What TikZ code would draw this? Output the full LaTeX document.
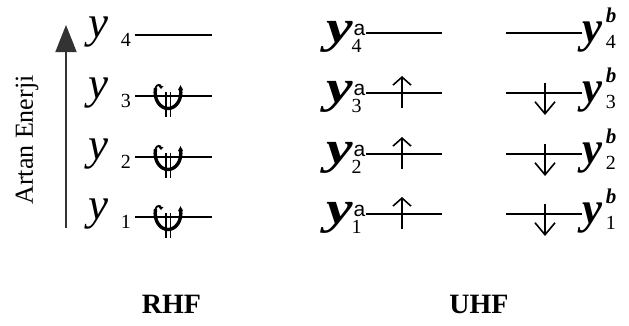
\documentclass[tikz,border=0pt]{standalone}
\usepackage{fontspec}
\setmainfont{Liberation Serif}
\newfontfamily\arialfont{Liberation Sans}
\usetikzlibrary{arrows.meta}
\newcommand{\bigy}{{\fontsize{45}{45}\selectfont\itshape y}}
\newcommand{\bigay}{{\fontsize{46}{46}\selectfont\bfseries\itshape\scalebox{1.3}[1]{y}}}
\newcommand{\bigby}{{\fontsize{45}{45}\selectfont\bfseries\itshape y}}
\newcommand{\idx}[1]{{\fontsize{20}{20}\selectfont\upshape\mdseries #1}}
% stacked super/subscript: #1 sup, #2 sub, #3 raise of sup, #4 drop of sub
\newcommand{\stk}[4]{\rlap{\raisebox{#3}{#1}}\raisebox{-#4}{#2}}
\tikzset{
  lvl/.style={line width=1.6pt},
  lbl/.style={inner sep=0pt, outer sep=0pt},
  upspin/.style={line width=1.6pt, -{Straight Barb[length=8pt,width=18pt,line width=1.6pt]}},
  downspin/.style={line width=1.6pt, -{Straight Barb[length=12pt,width=20pt,line width=1.6pt]}},
  pairglyph/.pic={
    % cup (y grows downward)
    \draw[line width=3.4pt] (-12.5,-8) .. controls (-14.5,5) and (-7,12.5) .. (0,12.5)
                         .. controls (7,12.5) and (14.5,5) .. (12.5,-8);
    % hook at the top of the left arm
    \draw[line width=1.8pt] (-12.5,-8) .. controls (-11.5,-12) and (-7,-12) .. (-7,-9);
    \fill (-7,-7) -- (-9.5,-10) -- (-4.5,-10) -- cycle;
    % pointed top of the right arm
    \fill (12.5,-11) -- (15,-6) -- (10,-6) -- cycle;
    % double stem
    \draw[line width=1.6pt] (-2.3,-4) -- (-2.3,21);
    \draw[line width=1.6pt] (2.3,-4) -- (2.3,21);
  }
}
\begin{document}
\begin{tikzpicture}[x=1pt,y=-1pt]
\useasboundingbox (0,0) rectangle (629,325);
% energy axis
\coordinate (ebot) at (66,228);
\coordinate (etop) at (66,25);
\draw[line width=1.8pt, draw=black!80, -{Triangle[length=27pt,width=21pt]}] (ebot) -- (etop);
\node[lbl, rotate=90] (ener) at (27,140) {\fontsize{26}{26}\selectfont Artan Enerji};
% RHF levels
\foreach \i/\Y in {1/217,2/157,3/96,4/35}{
  \coordinate (rl\i) at (135,\Y);
  \coordinate (rr\i) at (212,\Y);
  \draw[lvl] (rl\i) -- (rr\i);
  \node[lbl, anchor=base west] (ry\i) at (88,\Y+2) {\bigy\hspace{13pt}\raisebox{-9pt}{\idx{\i}}};
}
\foreach \Y in {217,157,96}{
  \pic at (168,\Y) {pairglyph};
}
% UHF alpha
\foreach \i/\Y in {1/214,2/154,3/93,4/33}{
  \coordinate (al\i) at (366,\Y);
  \coordinate (ar\i) at (442,\Y);
  \draw[lvl] (al\i) -- (ar\i);
  \node[lbl, anchor=base west] (ay\i) at (326,\Y+9)
    {\bigay\hspace{-1pt}\stk{\hspace{2pt}\fontsize{21}{21}\selectfont\arialfont a}{\idx{\i}}{7pt}{10pt}};
}
\foreach \i/\Y in {1/214,2/154,3/93}{
  \coordinate (ua\i) at (402,\Y+15);
  \coordinate (ub\i) at (402,\Y-17);
  \draw[upspin] (ua\i) -- (ub\i);
}
% UHF beta
\foreach \i/\Y in {1/214,2/154,3/93,4/33}{
  \coordinate (bl\i) at (506,\Y);
  \coordinate (br\i) at (582,\Y);
  \draw[lvl] (bl\i) -- (br\i);
  \node[lbl, anchor=base west] (by\i) at (582,\Y+9)
    {\bigby\hspace{4pt}\stk{\fontsize{21}{21}\selectfont\bfseries\itshape b}{\idx{\i}}{20pt}{6pt}};
}
\foreach \i/\Y in {1/214,2/154,3/93}{
  \coordinate (da\i) at (545,\Y-10);
  \coordinate (db\i) at (545,\Y+22);
  \draw[downspin] (da\i) -- (db\i);
}
% titles
\node[lbl, anchor=base] (rhf) at (171.5,313) {\fontsize{28}{28}\selectfont\bfseries RHF};
\node[lbl, anchor=base] (uhf) at (479,313) {\fontsize{28}{28}\selectfont\bfseries UHF};
\end{tikzpicture}
\end{document}
